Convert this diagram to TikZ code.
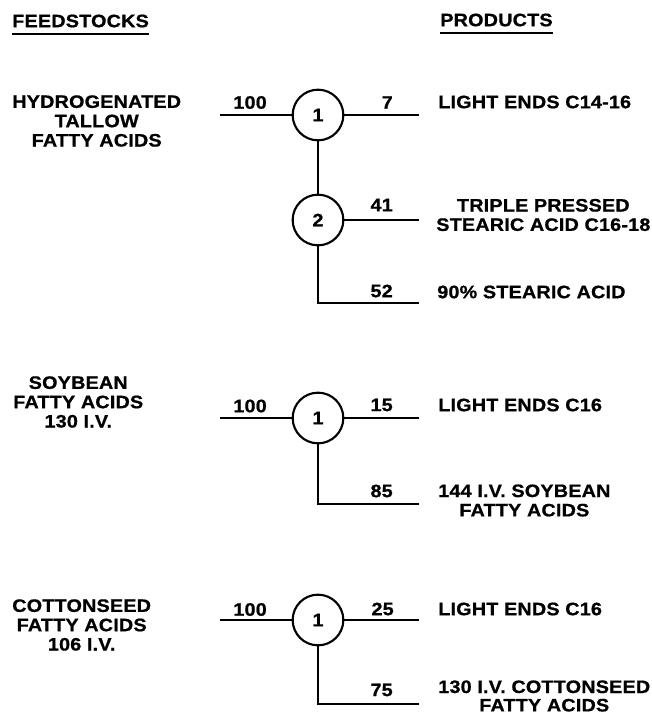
\documentclass[tikz,border=0pt]{standalone}
\usepackage{fontspec}
\setmainfont{Liberation Sans}[FakeStretch=1.1,LetterSpace=1,BoldFeatures={FakeBold=0.8}]
\usetikzlibrary{shapes.geometric}
\begin{document}
\begin{tikzpicture}[x=0.75pt,y=-0.75pt,
  txt/.style={font=\bfseries\fontsize{13.5}{14.5}\selectfont, inner sep=0pt},
  lt/.style={txt, anchor=west},
  rt/.style={txt, anchor=east},
  lft/.style={txt, align=center, anchor=west},
  unit/.style={draw, circle, minimum size=38pt, inner sep=0pt, line width=1.6pt, font=\bfseries\fontsize{13.5}{14.5}\selectfont},
  flow/.style={line width=1.6pt},
  uline/.style={line width=1.5pt}]
\useasboundingbox (0,0) rectangle (652,715);
% headers
\node[lt] (fh) at (12,21) {FEEDSTOCKS};
\node[lt] (ph) at (440,20) {PRODUCTS};
\draw[uline] ([yshift=-4.5pt]fh.south west) -- ([yshift=-4.5pt]fh.south east);
\draw[uline] ([yshift=-4.5pt]ph.south west) -- ([yshift=-4.5pt]ph.south east);

% ---------- block 1 ----------
\node[lft] (f1) at (12,121) {HYDROGENATED\\TALLOW\\FATTY ACIDS};
\node[unit] (a1) at (318,115) {1};
\node[unit] (a2) at (318,220) {2};
\coordinate (a1in) at (220,115);
\coordinate (a1out) at (419,115);
\coordinate (a2out) at (419,220);
\coordinate (a2dn) at (318,303);
\coordinate (a2bot) at (419,303);
\draw[flow] (a1in) -- (a1.west);
\draw[flow] (a1.east) -- (a1out);
\draw[flow] (a1.south) -- (a2.north);
\draw[flow] (a2.east) -- (a2out);
\draw[flow] (a2.south) -- (a2dn) -- (a2bot);
\node[rt] (a1n) at (267,102.5) {100};
\node[rt] (a1o) at (393,102.5) {7};
\node[rt] (a2o) at (393,205) {41};
\node[rt] (a2b) at (393,291) {52};
\node[lt] (p11) at (438,102) {LIGHT ENDS C14-16};
\node[lft] (p12) at (436,215) {TRIPLE PRESSED\\STEARIC ACID C16-18};
\node[lt] (p13) at (437,292) {90\% STEARIC ACID};

% ---------- block 2 ----------
\node[lft] (f2) at (13,402) {SOYBEAN\\FATTY ACIDS\\130 I.V.};
\node[unit] (b1) at (318,418) {1};
\coordinate (b1in) at (220,418);
\coordinate (b1out) at (419,418);
\coordinate (b1dn) at (318,504);
\coordinate (b1bot) at (419,504);
\draw[flow] (b1in) -- (b1.west);
\draw[flow] (b1.east) -- (b1out);
\draw[flow] (b1.south) -- (b1dn) -- (b1bot);
\node[rt] (b1n) at (267,406) {100};
\node[rt] (b1o) at (393,405) {15};
\node[rt] (b1b) at (393,491) {85};
\node[lt] (p21) at (438,405) {LIGHT ENDS C16};
\node[lft] (p22) at (438,500.5) {144 I.V. SOYBEAN\\FATTY ACIDS};

% ---------- block 3 ----------
\node[lft] (f3) at (12,625) {COTTONSEED\\FATTY ACIDS\\106 I.V.};
\node[unit] (c1) at (318,620) {1};
\coordinate (c1in) at (220,620);
\coordinate (c1out) at (419,620);
\coordinate (c1dn) at (318,704);
\coordinate (c1bot) at (419,704);
\draw[flow] (c1in) -- (c1.west);
\draw[flow] (c1.east) -- (c1out);
\draw[flow] (c1.south) -- (c1dn) -- (c1bot);
\node[rt] (c1n) at (267,609.5) {100};
\node[rt] (c1o) at (394,609) {25};
\node[rt] (c1b) at (393,690) {75};
\node[lt] (p31) at (438,609) {LIGHT ENDS C16};
\node[txt, align=center, anchor=west, font=\bfseries\fontsize{13.5}{13.8}\selectfont] (p32) at (438,696) {130 I.V. COTTONSEED\\FATTY ACIDS};
\end{tikzpicture}
\end{document}
